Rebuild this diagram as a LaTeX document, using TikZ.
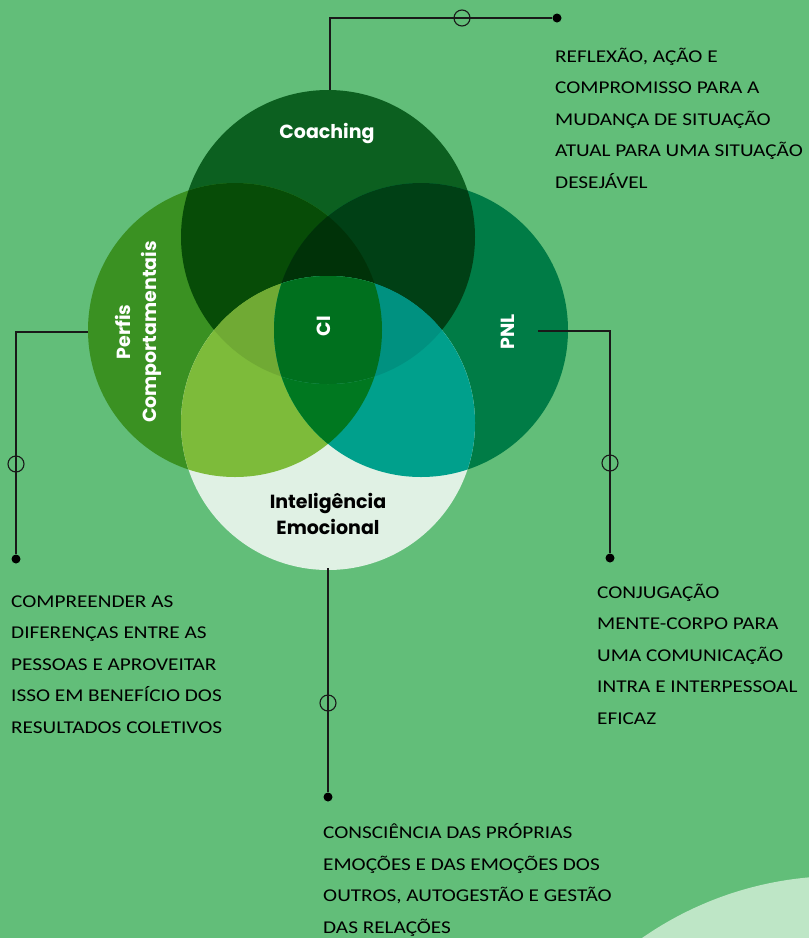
\documentclass[tikz,border=0pt]{standalone}
\usepackage{fontspec}
\setmainfont{Carlito}[FakeStretch=1.18]
\newfontfamily\headfont{Poppins}

\definecolor{bgGreen}{RGB}{98,190,121}
\definecolor{discLight}{RGB}{190,230,198}
\definecolor{coachC}{RGB}{12,96,32}
\definecolor{perfC}{RGB}{58,145,34}
\definecolor{pnlC}{RGB}{0,124,70}
\definecolor{intC}{RGB}{224,241,228}
\definecolor{coPe}{RGB}{7,76,7}
\definecolor{coPn}{RGB}{0,64,21}
\definecolor{coPePn}{RGB}{0,50,8}
\definecolor{peIn}{RGB}{125,187,58}
\definecolor{pnIn}{RGB}{0,160,140}
\definecolor{pePnIn}{RGB}{0,120,32}
\definecolor{coPeIn}{RGB}{112,170,52}
\definecolor{coPnIn}{RGB}{0,145,128}
\definecolor{allC}{RGB}{0,112,30}
\definecolor{lineC}{RGB}{25,25,25}

\tikzset{
  link/.style={draw=lineC, line width=1.2pt},
  ring/.style={circle, draw=lineC, line width=1.1pt, minimum size=16pt, inner sep=0pt},
  dot/.style={circle, fill=black, minimum size=9pt, inner sep=0pt},
  lbl/.style={font=\headfont\bfseries\fontsize{19}{26}\selectfont, text=white, inner sep=0pt},
  txt/.style={anchor=base west, align=left, inner sep=0pt,
    font=\fontsize{18}{31.5}\selectfont, text=black}
}

\begin{document}
\begin{tikzpicture}[x=1pt,y=-1pt]
  \useasboundingbox (0,0) rectangle (809,938);
  \fill[bgGreen] (0,0) rectangle (809,938);
  \clip (0,0) rectangle (809,938);
  \fill[discLight] (840,1223) circle (347pt);

  \coordinate (co) at (328,237);
  \coordinate (pe) at (235,330);
  \coordinate (pn) at (421,330);
  \coordinate (ie) at (328,423);

  % single circles
  \fill[coachC] (co) circle (147pt);
  \fill[perfC] (pe) circle (147pt);
  \fill[pnlC] (pn) circle (147pt);
  \fill[intC] (ie) circle (147pt);

  % pairs
  \begin{scope}
    \clip (co) circle (147pt);
    \fill[coPe] (pe) circle (147pt);
    \fill[coPn] (pn) circle (147pt);
    \clip (pe) circle (147pt);
    \fill[coPePn] (pn) circle (147pt);
  \end{scope}
  \begin{scope}
    \clip (ie) circle (147pt);
    \fill[peIn] (pe) circle (147pt);
    \fill[pnIn] (pn) circle (147pt);
    \clip (pe) circle (147pt);
    \fill[pePnIn] (pn) circle (147pt);
  \end{scope}

  % triples with coaching and inteligencia
  \begin{scope}
    \clip (co) circle (147pt);
    \clip (ie) circle (147pt);
    \fill[coPeIn] (pe) circle (147pt);
    \fill[coPnIn] (pn) circle (147pt);
    \clip (pe) circle (147pt);
    \fill[allC] (pn) circle (147pt);
  \end{scope}

  % circle labels
  \node[lbl] (coLbl) at (327,133) {Coaching};
  \node[lbl, rotate=90, align=center] (peLbl) at (138,332) {Perfis\\Comportamentais};
  \node[lbl, rotate=90] (ciLbl) at (324,326) {CI};
  \node[lbl, rotate=90] (pnLbl) at (508,332) {PNL};
  \node[lbl, text=black, align=center] (ieLbl) at (328,514) {Inteligência\\Emocional};

  % connectors
  \coordinate (coStart) at (330,90);
  \coordinate (coBend) at (330,18);
  \node[dot] (coDot) at (557,18) {};
  \coordinate (peStart) at (88,332);
  \coordinate (peBend) at (16,332);
  \node[dot] (peDot) at (16,559) {};
  \coordinate (pnStart) at (538,331);
  \coordinate (pnBend) at (610,331);
  \node[dot] (pnDot) at (610,558) {};
  \coordinate (ieStart) at (328,568);
  \node[dot] (ieDot) at (328,797) {};

  \draw[link] (coStart) -- (coBend) -- (coDot);
  \draw[link] (peStart) -- (peBend) -- (peDot);
  \draw[link] (pnStart) -- (pnBend) -- (pnDot);
  \draw[link] (ieStart) -- (ieDot);

  \node[ring] (coRing) at (462,18) {};
  \node[ring] (peRing) at (16,464) {};
  \node[ring] (pnRing) at (610,463) {};
  \node[ring] (ieRing) at (328,703) {};

  % texts (base = last line)
  \node[txt] (coTxt) at (555,188) {REFLEXÃO, AÇÃO E\\COMPROMISSO PARA A\\MUDANÇA DE SITUAÇÃO\\ATUAL PARA UMA SITUAÇÃO\\DESEJÁVEL};
  \node[txt] (peTxt) at (11,733) {COMPREENDER AS\\DIFERENÇAS ENTRE AS\\PESSOAS E APROVEITAR\\ISSO EM BENEFÍCIO DOS\\RESULTADOS COLETIVOS};
  \node[txt] (pnTxt) at (597,724) {CONJUGAÇÃO\\MENTE-CORPO PARA\\UMA COMUNICAÇÃO\\INTRA E INTERPESSOAL\\EFICAZ};
  \node[txt] (ieTxt) at (323,933) {CONSCIÊNCIA DAS PRÓPRIAS\\EMOÇÕES E DAS EMOÇÕES DOS\\OUTROS, AUTOGESTÃO E GESTÃO\\DAS RELAÇÕES};
\end{tikzpicture}
\end{document}
